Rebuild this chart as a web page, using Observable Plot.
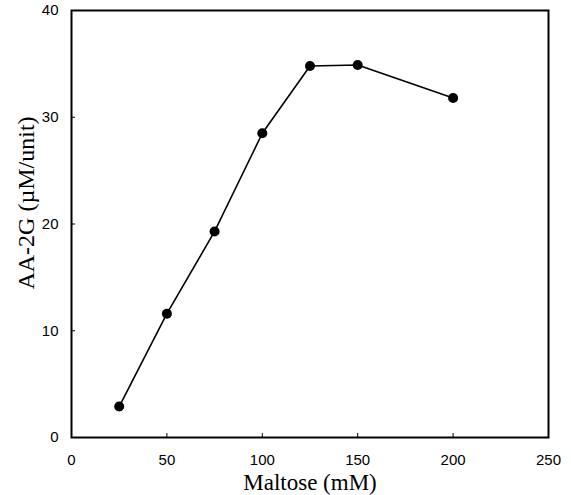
<!DOCTYPE html>
<html>
<head>
<meta charset="utf-8">
<script src="https://cdn.jsdelivr.net/npm/d3@7"></script>
<script src="https://cdn.jsdelivr.net/npm/@observablehq/plot@0.6"></script>
<style>
  html, body { margin: 0; padding: 0; background: #fff; }
  #chart svg { display: block; }
  #chart [aria-label="x-axis label"] text {
    font-family: "Liberation Serif", "Times New Roman", serif;
    font-size: 23px;
  }
</style>
</head>
<body>
<div id="chart"></div>
<script>
const maltose = [25, 50, 75, 100, 125, 150, 200];
const aa2g = [2.9, 11.6, 19.3, 28.5, 34.8, 34.9, 31.8];
const xTicks = [0, 50, 100, 150, 200, 250];
const yTicks = [0, 10, 20, 30, 40];
const xLabel = "Maltose (mM)";
const yLabel = "AA-2G (\u00B5M/unit)";

const data = maltose.map((m, i) => ({x: m, y: aa2g[i]}));

const W = 571, H = 495, mL = 71, mR = 23, mT = 10, mB = 58;
const innerW = W - mL - mR, innerH = H - mT - mB;
const tickLen = 4;

const chart = Plot.plot({
  width: W,
  height: H,
  marginLeft: mL,
  marginRight: mR,
  marginTop: mT,
  marginBottom: mB,
  style: {fontFamily: "'Liberation Sans', Arial, sans-serif", fontSize: "15px", color: "#000", background: "#fff"},
  x: {domain: [0, 250]},
  y: {domain: [0, 40]},
  marks: [
    Plot.axisX(xTicks, {tickSize: 0, tickPadding: 17, fontSize: 15, label: xLabel, labelAnchor: "center", labelArrow: "none", labelOffset: 52}),
    Plot.axisY(yTicks, {tickSize: 0, tickPadding: 13, fontSize: 15, label: null}),
    Plot.tickX(xTicks, {x: d => d, insetTop: innerH - tickLen, stroke: "#000", strokeWidth: 1}),
    Plot.tickY(yTicks, {y: d => d, insetRight: innerW - tickLen, stroke: "#000", strokeWidth: 1}),
    Plot.text([yLabel], {frameAnchor: "left", textAnchor: "middle", rotate: -90, dx: -45, dy: -21, fontSize: 24, fontFamily: "'Liberation Serif', 'Times New Roman', serif", fill: "#000"}),
    Plot.frame({stroke: "#000", strokeWidth: 2}),
    Plot.line(data, {x: "x", y: "y", stroke: "#000", strokeWidth: 1.6}),
    Plot.dot(data, {x: "x", y: "y", r: 5, fill: "#000", stroke: "none"})
  ]
});
document.getElementById("chart").appendChild(chart);
</script>
</body>
</html>
